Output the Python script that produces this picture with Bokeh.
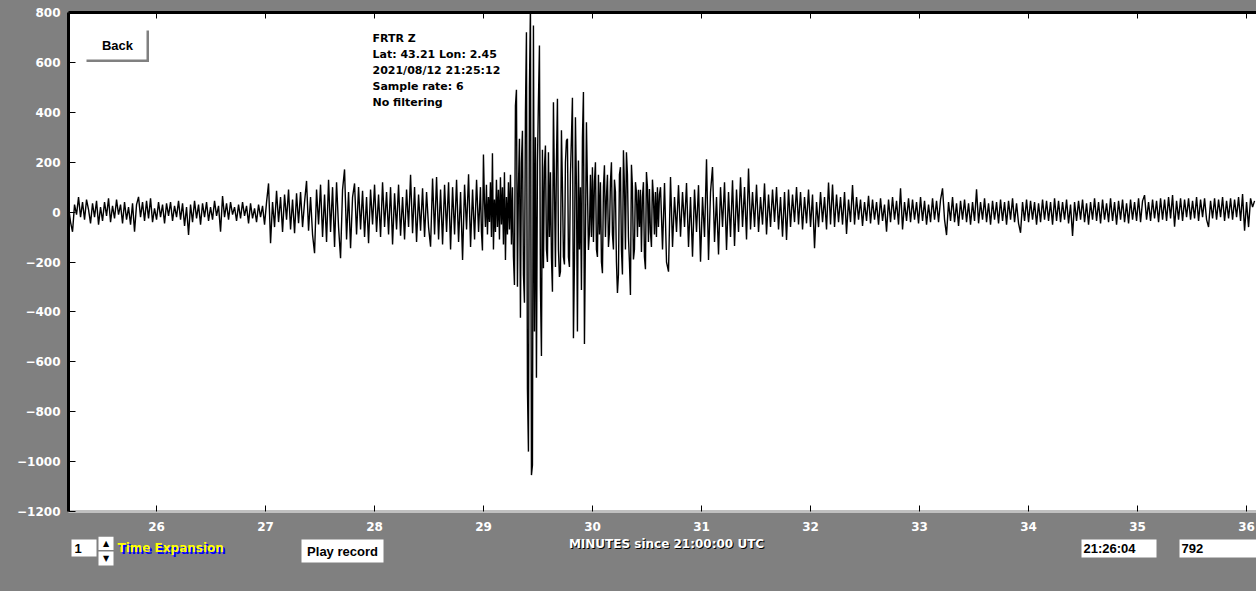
from bokeh.plotting import figure
from bokeh.layouts import column
from bokeh.models import Range1d, LinearAxis, FixedTicker, Label, BoxAnnotation
from bokeh.core.properties import value
from bokeh.embed import file_html
from bokeh.resources import INLINE

# ---------------- data ----------------
info_lines = ["FRTR  Z", "Lat: 43.21 Lon: 2.45", "2021/08/12 21:25:12",
              "Sample rate: 6", "No filtering"]
x_ticks = [26, 27, 28, 29, 30, 31, 32, 33, 34, 35, 36]
y_ticks = [-1200, -1000, -800, -600, -400, -200, 0, 200, 400, 600, 800]
x_title = "MINUTES since 21:00:00 UTC"
clock_text = "21:26:04"
count_text = "792"
expansion_text = "1"

# start time (minutes) and plotted sample step of each trace segment
seg_start = [25.193, 27.028, 28.972, 30.624, 34.294]
seg_step = [0.01835, 0.01835, 0.009174, 0.01835, 0.01835]

# pre-event noise
seg_a = [20, -40, -79, 30, -10, 60, -20, 40, -30, 50,
         10, -45, 35, -20, 45, -50, 20, -35, 40, -15,
         55, -40, 25, -25, 50, -10, 30, -45, 40, -30,
         20, -50, 35, -79, 30, 61, -20, 40, -35, 45,
         -25, 55, -40, 15, -30, 40, -20, 30, -45, 35,
         -15, 40, -35, 25, -20, 45, -30, 35, -55, 20,
         -92, 30, -40, 45, -25, 30, -50, 35, -20, 40,
         -35, 20, -30, 45, -15, 25, -79, 64, -20, 35,
         -30, 40, -10, 20, -35, 30, -25, 40, -15, 25,
         -45, 35, -25, 15, -40, 30, -20, 25, -50, 40]
# first arrivals
seg_b = [115, -125, 40, -60, 85, -40, 60, -80, 70, -30,
         90, -70, 50, -85, 75, -45, 80, -60, 40, 125,
         -75, 60, -90, -165, 90, -50, 110, -100, 70, -120,
         130, -80, 100, -140, 120, -60, -185, 90, 171, -110,
         80, -145, 60, 115, -90, 100, -70, 85, -100, 60,
         -125, 90, -50, 110, -80, 70, -100, 120, -60, 80,
         -90, 100, -130, 75, -70, 110, -95, 60, -110, 90,
         -60, 150, -85, 100, -120, 70, -75, 95, -100, 80,
         -60, -139, 135, -90, 141, -110, 90, -130, 110, -80,
         120, -150, 100, -90, 130, -120, 80, -192, 110, -70,
         152, -140, 90, -110, 130, -80]
# main shaking (finer step)
seg_c = [100, -80, -154, 231, 40, -60, 110, -90, 60, -40,
         120, -100, 236, -150, 50, -80, 130, -60, 90, -110,
         140, -50, 100, -130, 160, -192, 60, -90, 120, -70,
         150, -130, 100, -180, -292, 427, 490, -299, 100, 294,
         -423, 200, 326, -250, -363, 400, 721, -710, -960, 500,
         830, -1054, -1014, 748, -479, 300, -664, 200, 450, 668,
         -300, -577, 250, -225, 180, 267, -150, -200, 240, -100,
         160, -180, -319, 440, 100, -220, 200, 454, -150, -260,
         -239, 328, 100, -180, -210, 200, 287, 294, -180, -220,
         150, 300, 458, -506, -200, 380, 100, -479, 207, -150,
         100, -312, 300, 481, -529, -100, 360, 100, -152, -80,
         150, -100, 180, -120, 120, 200, -150, -180, 150, -90,
         120, -200, -245, 100, 188, -100, 60, 150, -140, -80,
         120, 200, -90, -150, 130, 80, -200, -324, -250, 150,
         180, -150, -250, 248, 100, -150, 240, 150, -100, -200,
         -332, 190, 100, -190, -150, 120, 80, -100, 90, -60,
         90, -160, 60, 120, -180, -229, 161, 100, -120, 93,
         -80, -140, 130, 60, -90, 80, -100, 100, -60, 70]
# coda
seg_d = [100, -150, 117, -200, -239, 141, -140, 60, -80, 108,
         -99, 80, -60, 117, -140, 60, -179, 90, -80, 108,
         -199, 60, -100, 212, -192, 80, 181, -120, 60, -170,
         100, -60, 120, -152, 80, -100, 128, -136, 90, -80,
         140, -60, 100, -110, 175, -70, 80, -60, 110, -80,
         60, -50, 115, -90, 70, -60, 90, -40, 100, -70,
         60, -99, 80, -112, 90, -60, 70, -40, 100, -50,
         80, -70, 60, -45, 90, -60, 70, -145, 40, -60,
         80, -40, 60, -70, 119, -50, 110, -60, 70, -40,
         60, -50, 80, -88, 50, -40, 108, -50, 60, -30,
         50, -55, 40, -35, 65, -45, 50, -30, 40, -50,
         55, -35, 30, -79, 50, -40, 60, -30, 45, -50,
         95, -70, 40, -35, 55, -40, 50, -30, 40, -45,
         60, -35, 45, -50, 30, -40, 55, -30, 45, -40,
         50, 95, -30, -92, 40, -35, 60, -40, 35, -55,
         45, -30, 50, -40, 35, -50, 40, -35, 91, -45,
         40, -30, 55, -40, 35, -50, 45, -30, 40, -45,
         50, -35, 40, -50, 45, -30, 55, -40, 35, -45,
         -83, 40, -35, 50, -40, 45, -30, 40, -50, 35,
         -40, 50, -30, 45, -35, 40, -50, 55, -35, 45]
# post-event noise
seg_e = [-40, 40, -30, 50, -45, 30, -96, 40, -35, 45,
         -30, 50, -40, 35, -50, 40, -30, 55, -35, 40,
         -45, 50, -30, 35, -40, 55, -35, 40, -50, 45,
         -30, 50, -40, 35, -45, 50, -30, 40, -35, 55,
         -40, 45, 68, -30, 40, -35, 50, -25, 45, -40,
         55, -30, 50, -35, 60, -25, 68, -59, 45, -30,
         55, -35, 50, -20, 55, -30, 45, -25, 60, -35,
         50, -20, 55, -30, -60, 45, -25, 55, -30, 50,
         -20, 60, -35, 45, -25, 55, -30, 50, -20, 60,
         -35, 72, -75, 40, -60, 55, 20, 45]
segments = [seg_a, seg_b, seg_c, seg_d, seg_e]

times, counts = [], []
for s0, ds, seg in zip(seg_start, seg_step, segments):
    for i, val in enumerate(seg):
        times.append(s0 + i * ds)
        counts.append(val)

# ---------------- layout ----------------
W = 1256
H_MAIN = 536
H_FOOT = 591 - H_MAIN
X0, X1 = 25.1927, 36.0917
Y0, Y1 = -1200, 800
ML, MR, MT, MB = 68, 0, 12, 25
FW = W - ML - MR
FH = H_MAIN - MT - MB
DX = (X1 - X0) / FW
DY = (Y1 - Y0) / FH
GRAY = "#808080"


def wx(px):
    return X0 + (px - ML) * DX


def wy(py):
    return Y1 - (py - MT) * DY


p = figure(width=W, height=H_MAIN, x_range=Range1d(X0, X1), y_range=Range1d(Y0, Y1),
           output_backend="svg", toolbar_location=None,
           x_axis_location=None, y_axis_location=None,
           min_border_left=ML, min_border_right=MR,
           min_border_top=MT, min_border_bottom=MB)
p.background_fill_color = "white"
p.border_fill_color = GRAY
p.outline_line_color = None
for g in p.grid:
    g.visible = False

label_style = dict(major_label_text_color="white", major_label_text_font="DejaVu Sans",
                   major_label_text_font_size="12px", major_label_text_font_style="bold")
left_axis = LinearAxis(ticker=FixedTicker(ticks=y_ticks), axis_line_color="black",
                       axis_line_width=3, major_tick_in=7, major_tick_out=0,
                       minor_tick_line_color=None, major_label_standoff=8, **label_style)
p.add_layout(left_axis, "left")
bottom_axis = LinearAxis(ticker=FixedTicker(ticks=x_ticks), axis_line_color="#c0c0c0",
                         axis_line_width=3, major_tick_in=6, major_tick_out=0,
                         minor_tick_line_color=None, major_label_standoff=10, **label_style)
p.add_layout(bottom_axis, "below")
top_axis = LinearAxis(ticker=FixedTicker(ticks=x_ticks), axis_line_color="black",
                      axis_line_width=3, major_tick_in=6, major_tick_out=0,
                      minor_tick_line_color=None, major_label_text_color=None,
                      major_label_text_font_size="1px", major_label_standoff=0)
p.add_layout(top_axis, "above")

# the seismogram trace
p.line(times, counts, line_color="black", line_width=1.4)

# station info
for i, line in enumerate(info_lines):
    p.add_layout(Label(x=wx(372), y=wy(38 + 16 * i), text=line, text_align="left",
                       text_baseline="middle", text_color="black", text_font="DejaVu Sans",
                       text_font_size="11px", text_font_style="bold"))

# Back button (inside the plot frame)
for l, t, r, b in [(146, 30, 148.5, 61.5), (86, 59, 148.5, 61.5)]:
    p.add_layout(BoxAnnotation(left=wx(l), right=wx(r), top=wy(t), bottom=wy(b),
                               fill_color=GRAY, fill_alpha=1.0, line_color=None))
p.add_layout(Label(x=wx(117), y=wy(45), text="Back", text_align="center",
                   text_baseline="middle", text_color="black", text_font="Liberation Sans",
                   text_font_size="13px", text_font_style="bold"))

# ---------------- footer strip (controls), in page-pixel coordinates ----------------
f = figure(width=W, height=H_FOOT, x_range=Range1d(ML, W), y_range=Range1d(591, H_MAIN),
           output_backend="svg", toolbar_location=None,
           x_axis_location=None, y_axis_location=None,
           min_border_left=ML, min_border_right=0, min_border_top=0, min_border_bottom=0)
f.background_fill_color = None
f.border_fill_color = None
f.outline_line_color = None
for g in f.grid:
    g.visible = False

# white control boxes: expansion, spinner up/down, play, clock, count
f.quad(left=[71, 98, 98, 301, 1081, 1179], right=[96, 113, 113, 383, 1156, 1256],
       top=[539, 536, 551, 539, 539, 539], bottom=[556, 549.5, 565, 562, 557, 557],
       fill_color="white", line_color=None)

bold13 = dict(text_font=value("Liberation Sans"), text_font_size="13px",
              text_font_style="bold", text_baseline="middle", text_color="black")
f.text(x=[74, 1083, 1181], y=[548, 548, 548], text=[expansion_text, clock_text, count_text],
       text_align="left", **bold13)
f.text(x=[342], y=[550.5], text=["Play record"], text_align="center", **bold13)
f.text(x=[105.5, 105.5], y=[543, 558], text=["\u25B2", "\u25BC"], text_align="center",
       text_baseline="middle", text_font=value("DejaVu Sans"), text_font_size="8px",
       text_color="black")

bold12 = dict(text_font=value("DejaVu Sans"), text_font_size="12px",
              text_font_style="bold", text_baseline="middle")
f.text(x=[119], y=[549], text=["Time Expansion"], text_align="left", text_color="#0000ff", **bold12)
f.text(x=[117], y=[547], text=["Time Expansion"], text_align="left", text_color="#ffff00", **bold12)
f.text(x=[667], y=[544], text=[x_title], text_align="center", text_color="black", **bold12)
f.text(x=[666], y=[543], text=[x_title], text_align="center", text_color="white", **bold12)

layout = column(p, f, spacing=0, styles={"background-color": GRAY})
open("out.html", "w").write(file_html(layout, INLINE))
